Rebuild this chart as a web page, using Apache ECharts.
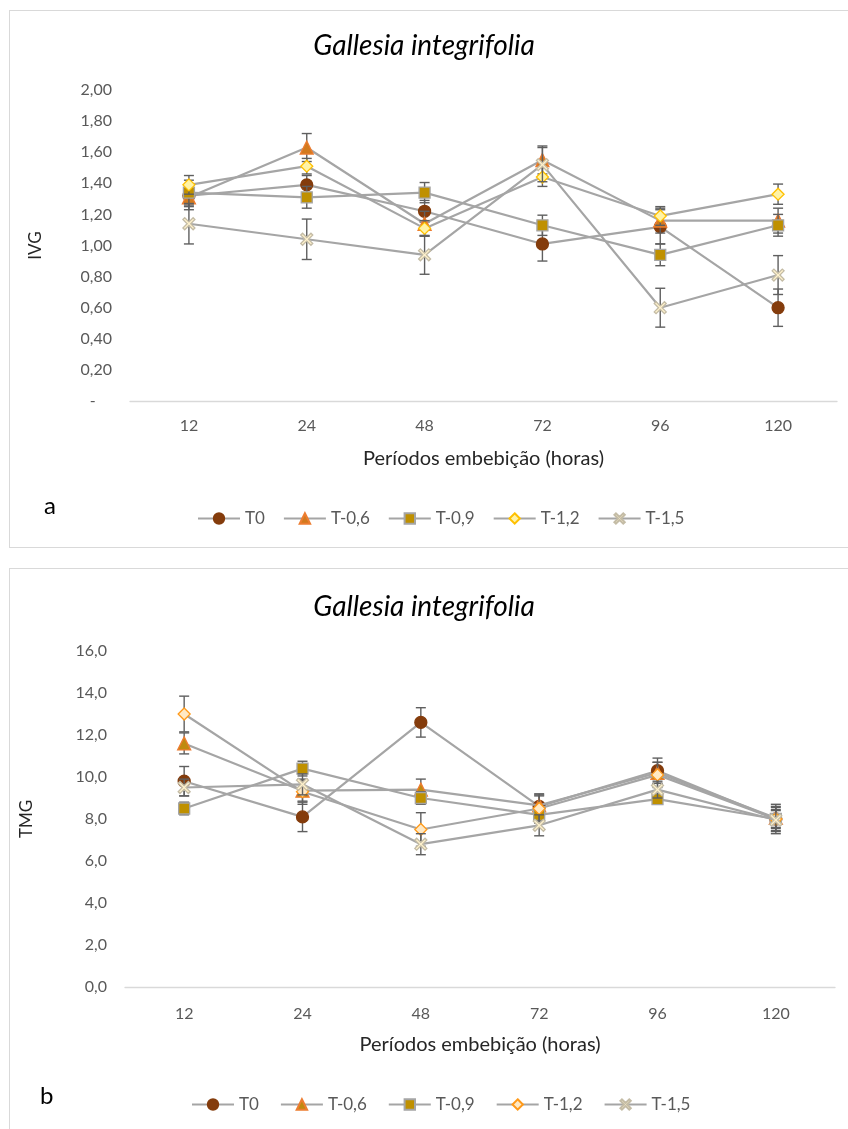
<!DOCTYPE html>
<html>
<head>
<meta charset="utf-8">
<script src="https://cdn.jsdelivr.net/npm/echarts@6/dist/echarts.min.js"></script>
<style>
  html, body { margin: 0; padding: 0; background: #fff; }
  body { width: 848px; height: 1129px; position: relative; overflow: hidden; }
  .frame { position: absolute; border: 1px solid #d9d9d9; box-sizing: border-box; }
  .chart { position: absolute; left: 0; width: 848px; }
</style>
</head>
<body>
<div class="frame" style="left:9px; top:10px; width:860px; height:538px;"></div>
<div class="frame" style="left:9px; top:568px; width:860px; height:600px;"></div>
<div id="chartA" class="chart" style="top:0; height:558px;"></div>
<div id="chartB" class="chart" style="top:558px; height:571px;"></div>
<script>
// Imbibition periods (hours) on the x axis
const periods = ['12', '24', '48', '72', '96', '120'];
const treatments = ['T0', 'T-0,6', 'T-0,9', 'T-1,2', 'T-1,5'];

// IVG (germination speed index): means and error-bar half widths
const ivgT0   = [1.32, 1.39, 1.22, 1.01, 1.12, 0.60];
const ivgT06  = [1.31, 1.63, 1.14, 1.55, 1.16, 1.16];
const ivgT09  = [1.34, 1.31, 1.34, 1.13, 0.94, 1.13];
const ivgT12  = [1.39, 1.51, 1.11, 1.44, 1.19, 1.33];
const ivgT15  = [1.14, 1.04, 0.94, 1.52, 0.60, 0.81];
const ivgErrT0  = [0.07, 0.06, 0.07, 0.11, 0.11, 0.12];
const ivgErrT06 = [0.08, 0.09, 0.08, 0.09, 0.08, 0.08];
const ivgErrT09 = [0.08, 0.07, 0.065, 0.065, 0.07, 0.07];
const ivgErrT12 = [0.06, 0.05, 0.05, 0.06, 0.06, 0.065];
const ivgErrT15 = [0.13, 0.13, 0.125, 0.11, 0.125, 0.125];

// TMG (mean germination time): means and error-bar half widths
const tmgT0   = [9.8, 8.1, 12.6, 8.6, 10.3, 8.0];
const tmgT06  = [11.6, 9.35, 9.4, 8.65, 10.2, 8.05];
const tmgT09  = [8.5, 10.4, 9.0, 8.2, 8.95, 8.0];
const tmgT12  = [13.0, 9.3, 7.5, 8.5, 10.1, 8.0];
const tmgT15  = [9.5, 9.65, 6.8, 7.7, 9.4, 7.95];
const tmgErrT0  = [0.7, 0.7, 0.7, 0.6, 0.6, 0.7];
const tmgErrT06 = [0.5, 0.5, 0.5, 0.5, 0.5, 0.5];
const tmgErrT09 = [0.3, 0.35, 0.3, 0.4, 0.2, 0.4];
const tmgErrT12 = [0.85, 0.6, 0.8, 0.6, 0.6, 0.6];
const tmgErrT15 = [0.4, 0.5, 0.5, 0.5, 0.4, 0.5];

const FONT = 'Lato, "Open Sans", sans-serif';
const LINE_GRAY = '#a5a5a5';
const CROSS = 'path://M-1,-0.7 L-0.7,-1 L0,-0.3 L0.7,-1 L1,-0.7 L0.3,0 L1,0.7 L0.7,1 L0,0.3 L-0.7,1 L-1,0.7 L-0.3,0 Z';

function markerStyles(variant) {
  return [
    { symbol: 'circle', size: 12, fill: '#843c0c', border: '#843c0c' },
    { symbol: 'triangle', size: 13, fill: variant === 'a' ? '#d27a1e' : '#bf8a10', border: '#ed7d31' },
    { symbol: 'rect', size: 11, fill: '#bf9000', border: '#a5a5a5' },
    { symbol: 'diamond', size: 12, fill: variant === 'a' ? '#fff3a6' : '#ffe9c4', border: variant === 'a' ? '#ffc000' : '#ff9a1a' },
    { symbol: CROSS, size: 12, fill: '#fff2cc', border: '#c4bca6' }
  ];
}

function errorSeries(values, errs, z) {
  return {
    type: 'custom',
    silent: true,
    z: z,
    data: values.map((v, i) => [i, v, errs[i]]),
    renderItem: function (params, api) {
      const x = api.value(0), v = api.value(1), e = api.value(2);
      const top = api.coord([x, v + e]);
      const bot = api.coord([x, v - e]);
      const w = 5;
      const style = { stroke: '#5f5f5f', lineWidth: 1.4 };
      return {
        type: 'group',
        children: [
          { type: 'line', shape: { x1: top[0], y1: top[1], x2: bot[0], y2: bot[1] }, style },
          { type: 'line', shape: { x1: top[0] - w, y1: top[1], x2: top[0] + w, y2: top[1] }, style },
          { type: 'line', shape: { x1: bot[0] - w, y1: bot[1], x2: bot[0] + w, y2: bot[1] }, style }
        ]
      };
    }
  };
}

function buildOption(cfg) {
  const styles = markerStyles(cfg.variant);
  const series = [];
  cfg.values.forEach((vals, k) => {
    series.push(errorSeries(vals, cfg.errors[k], 2 + k * 3));
    series.push({
      name: treatments[k],
      type: 'line',
      data: vals,
      z: 3 + k * 3,
      symbol: styles[k].symbol,
      symbolSize: styles[k].size,
      showAllSymbol: true,
      lineStyle: { color: LINE_GRAY, width: 2.2 },
      itemStyle: { color: styles[k].fill, borderColor: styles[k].border, borderWidth: 1.3 },
      emphasis: { disabled: true },
      animation: false
    });
  });
  return {
    animation: false,
    textStyle: { fontFamily: FONT },
    title: {
      text: 'Gallesia integrifolia',
      left: 'center',
      top: cfg.titleTop,
      textStyle: { fontFamily: FONT, fontStyle: 'italic', fontWeight: 'normal', fontSize: 28, color: '#000' }
    },
    legend: {
      data: treatments,
      left: cfg.legendLeft,
      top: cfg.legendTop,
      itemWidth: 42,
      itemHeight: 13,
      itemGap: cfg.legendGap,
      textStyle: { fontFamily: FONT, fontSize: 17, color: '#595959' }
    },
    graphic: [{
      type: 'text',
      left: cfg.letterLeft,
      top: cfg.letterTop,
      style: { text: cfg.letter, fontFamily: FONT, fontSize: 24, fill: '#000' }
    }],
    grid: cfg.grid,
    xAxis: {
      type: 'category',
      data: periods,
      name: 'Períodos embebição (horas)',
      nameLocation: 'middle',
      nameGap: 48,
      nameTextStyle: { fontFamily: FONT, fontSize: 20, color: '#262626' },
      axisLine: { lineStyle: { color: '#d9d9d9', width: 1.3 } },
      axisTick: { show: false },
      axisLabel: { fontFamily: FONT, fontSize: 16, color: '#595959', margin: cfg.xLabelMargin }
    },
    yAxis: {
      type: 'value',
      min: 0,
      max: cfg.yMax,
      interval: cfg.yInterval,
      name: cfg.yName,
      nameLocation: 'middle',
      nameGap: cfg.yNameGap,
      nameTextStyle: { fontFamily: FONT, fontSize: 17, color: '#262626' },
      axisLine: { show: false },
      axisTick: { show: false },
      splitLine: { show: false },
      axisLabel: { fontFamily: FONT, fontSize: 16, color: '#595959', margin: 18, formatter: cfg.yFormatter }
    },
    series: series
  };
}

const chartA = echarts.init(document.getElementById('chartA'), null, { renderer: 'canvas' });
chartA.setOption(buildOption({
  variant: 'a',
  titleTop: 27,
  legendTop: 505,
  legendLeft: 192,
  legendGap: 18,
  letter: 'a', letterLeft: 44, letterTop: 494,
  xLabelMargin: 17,
  grid: { left: 130, right: 11, top: 90, bottom: 157 },
  yMax: 2, yInterval: 0.2, yName: 'IVG', yNameGap: 86,
  yFormatter: v => v === 0 ? '-    ' : v.toFixed(2).replace('.', ','),
  values: [ivgT0, ivgT06, ivgT09, ivgT12, ivgT15],
  errors: [ivgErrT0, ivgErrT06, ivgErrT09, ivgErrT12, ivgErrT15]
}));

const chartB = echarts.init(document.getElementById('chartB'), null, { renderer: 'canvas' });
chartB.setOption(buildOption({
  variant: 'b',
  titleTop: 30,
  legendTop: 533,
  legendLeft: 186,
  legendGap: 21,
  letter: 'b', letterLeft: 40, letterTop: 526,
  xLabelMargin: 19,
  grid: { left: 125, right: 13, top: 93, bottom: 142 },
  yMax: 16, yInterval: 2, yName: 'TMG', yNameGap: 90,
  yFormatter: v => v.toFixed(1).replace('.', ','),
  values: [tmgT0, tmgT06, tmgT09, tmgT12, tmgT15],
  errors: [tmgErrT0, tmgErrT06, tmgErrT09, tmgErrT12, tmgErrT15]
}));
</script>
</body>
</html>
